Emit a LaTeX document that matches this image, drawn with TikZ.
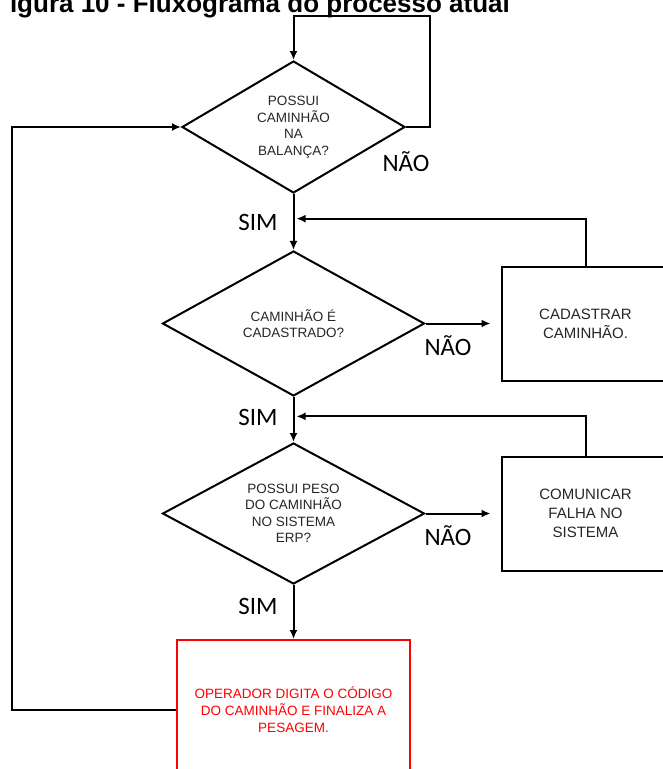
\documentclass[tikz,border=0pt]{standalone}
\usepackage{fontspec}
\setmainfont{Liberation Sans}
\newfontfamily\lblfont{Carlito}
\usetikzlibrary{positioning, shapes.geometric, arrows.meta, calc}

\tikzset{
  decision/.style={draw, diamond, aspect=1.8, inner sep=0pt, align=center,
    text=black!85, font=\fontsize{13.5}{16.5}\selectfont},
  process/.style={draw, rectangle, align=center, text=black!85,
    font=\fontsize{15}{19}\selectfont, minimum width=168pt, minimum height=114pt},
  endbox/.style={draw=red, rectangle, align=center, text=red,
    font=\fontsize{13.5}{17}\selectfont, minimum width=233pt, minimum height=140pt},
  lbl/.style={font=\lblfont\fontsize{25}{28}\selectfont, inner sep=0pt, text=black}
}

\begin{document}
\begin{tikzpicture}[x=1pt, y=-1pt, line width=2pt, >={Latex[length=9pt, width=8pt]}]
        \useasboundingbox (0,0) rectangle (663,769);
        \node[anchor=base west, inner sep=0pt, font=\bfseries\fontsize{26}{30}\selectfont] (title) at (9,12) {igura 10 - Fluxograma do processo atual};
        %---------------------------
        \node[decision, minimum width=223pt, minimum height=132pt] (d1) at (293.5,127) {POSSUI\\CAMINHÃO\\NA\\BALANÇA?};
        \node[decision, minimum width=262pt, minimum height=145pt, below=56pt of d1] (d2) {CAMINHÃO É\\CADASTRADO?};
        \node[decision, minimum width=262pt, minimum height=141pt, below=45pt of d2] (d3) {POSSUI PESO\\DO CAMINHÃO\\NO SISTEMA\\ERP?};
        \node[process, right=75pt of d2] (cad) {CADASTRAR\\CAMINHÃO.};
        \node[process, right=75pt of d3] (falha) {COMUNICAR\\FALHA NO\\SISTEMA};
        \node[endbox, below=54pt of d3] (op) {OPERADOR DIGITA O CÓDIGO\\DO CAMINHÃO E FINALIZA A\\PESAGEM.};
        \node[lbl, below=24pt of d1.east] (nao1) {NÃO};
        %---------------------------
        \coordinate (loopR) at (430,16);
        \coordinate (loopL) at (12,127);
        \coordinate (j1) at ($(d1.south)!0.44!(d2.north)$);
        \coordinate (j2) at ($(d2.south)!0.43!(d3.north)$);
        %--------------------------
        \path[->]
        (d1) edge node [lbl, left=15pt] {SIM} (d2)
        (d2) edge node [lbl, left=15pt, pos=0.45] {SIM} (d3)
        (d3) edge node [lbl, left=15pt, pos=0.4] {SIM} (op)
        (d2) edge [shorten >=10pt] node [lbl, below=11pt, pos=0.3] {NÃO} (cad)
        (d3) edge [shorten >=10pt] node [lbl, below=11pt, pos=0.3] {NÃO} (falha);
        \draw[->] (d1.east) -| (loopR) -| (d1.north);
        \draw[->] (op.west) -| (loopL) -- (d1.west);
        \draw[->, shorten >=3pt] (cad.north) |- (j1);
        \draw[->, shorten >=3pt] (falha.north) |- (j2);
\end{tikzpicture}
\end{document}
